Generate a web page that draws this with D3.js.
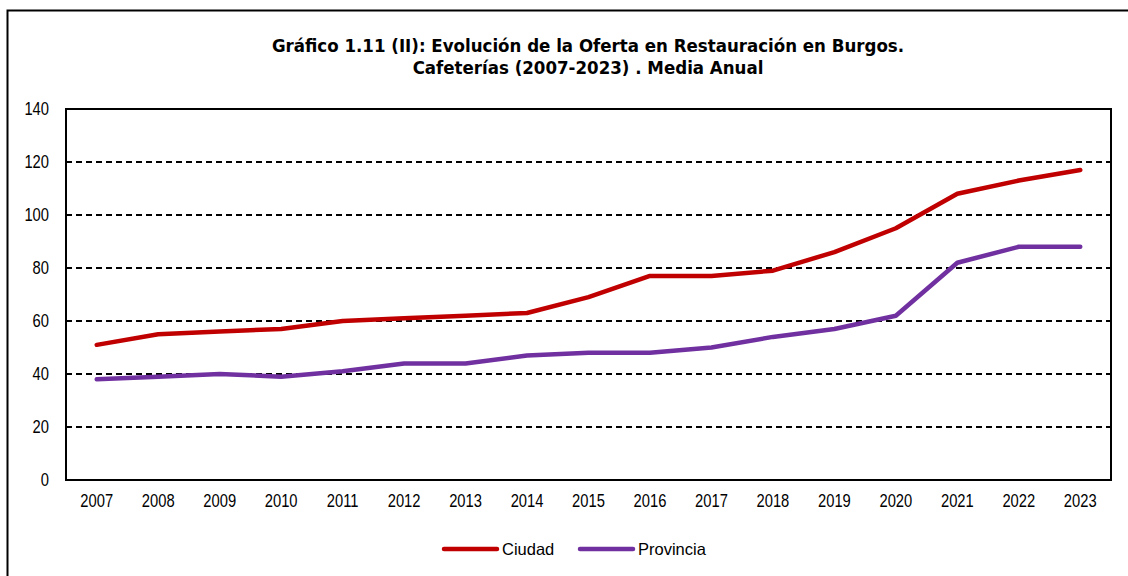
<!DOCTYPE html>
<html><head><meta charset="utf-8">
<script src="https://cdn.jsdelivr.net/npm/d3@7"></script>
<style>body{margin:0;background:#fff}svg{display:block}</style>
</head><body>
<svg id="c" width="1128" height="576"></svg>
<script>
const years = ["2007","2008","2009","2010","2011","2012","2013","2014","2015","2016","2017","2018","2019","2020","2021","2022","2023"];
const ciudad = [51,55,56,57,60,61,62,63,69,77,77,79,86,95,108,113,117];
const provincia = [38,39,40,39,41,44,44,47,48,48,50,54,57,62,82,88,88];
const yTicks = [0,20,40,60,80,100,120,140];
const seriesNames = ["Ciudad","Provincia"];
const colors = ["#C00000","#7030A0"];

const svg = d3.select("#c");
const L = 66, R = 1111, T = 109, B = 480;
const x = d3.scaleBand().domain(years).range([L, R]);
const y = d3.scaleLinear().domain([0,140]).range([B, T]);
const sans = "'Liberation Sans',Arial,sans-serif";

// outer frame (left and top)
svg.append("path").attr("d","M7.5,576 V10.5 H1128").attr("fill","none").attr("stroke","#000").attr("stroke-width",2);

// title
const title = svg.append("text").attr("text-anchor","middle").attr("font-family","'DejaVu Sans Condensed','DejaVu Sans',sans-serif").attr("font-weight","bold").attr("font-size",18.5).attr("fill","#000");
title.append("tspan").attr("x",588).attr("y",52).text("Gráfico 1.11 (II): Evolución de la Oferta en Restauración en Burgos.");
title.append("tspan").attr("x",588).attr("y",74).text("Cafeterías (2007-2023) . Media Anual");

// gridlines
svg.append("g").selectAll("line").data(yTicks.filter(d=>d>0 && d<140)).join("line")
  .attr("x1",L).attr("x2",R).attr("y1",d=>y(d)).attr("y2",d=>y(d))
  .attr("stroke","#000").attr("stroke-width",1.8).attr("stroke-dasharray","6,4");

// plot border
svg.append("rect").attr("x",L).attr("y",T).attr("width",R-L).attr("height",B-T).attr("fill","none").attr("stroke","#000").attr("stroke-width",2);

// y axis labels
const yAxis = d3.axisLeft(y).tickValues(yTicks).tickSize(0).tickPadding(0);
const ga = svg.append("g").attr("transform",`translate(${L-17},0)`).call(yAxis);
ga.select(".domain").remove();
ga.selectAll("text").attr("font-family",sans).attr("font-size",18).attr("fill","#000").attr("transform","scale(0.82,1)");

// x axis labels
const xAxis = d3.axisBottom(x).tickSize(0).tickPadding(0);
const gx = svg.append("g").attr("transform",`translate(0,${B+14})`).call(xAxis);
gx.select(".domain").remove();
gx.selectAll("text").attr("font-family",sans).attr("font-size",18).attr("fill","#000").attr("transform","scale(0.82,1)");

// lines
const line = d3.line().x((d,i)=>x(years[i])+x.bandwidth()/2).y(d=>y(d));
[ciudad, provincia].forEach((s,k)=>{
  svg.append("path").datum(s).attr("d",line).attr("fill","none").attr("stroke",colors[k])
    .attr("stroke-width",4.5).attr("stroke-linejoin","round").attr("stroke-linecap","round");
});

// legend
const legX = [444, 580], legY = 549;
seriesNames.forEach((n,k)=>{
  svg.append("line").attr("x1",legX[k]).attr("x2",legX[k]+53).attr("y1",legY).attr("y2",legY)
    .attr("stroke",colors[k]).attr("stroke-width",4.5).attr("stroke-linecap","round");
  svg.append("text").attr("x",legX[k]+58).attr("y",legY+6).attr("font-family",sans)
    .attr("font-size",16.5).attr("fill","#000").text(n);
});
</script>
</body></html>
